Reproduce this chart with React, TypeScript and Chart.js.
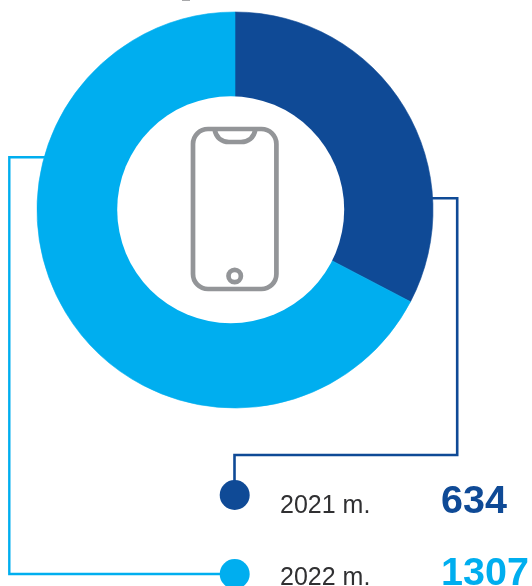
import React, { useEffect, useRef } from "react";
import { Chart, registerables } from "chart.js";

Chart.register(...registerables);

const years = ["2021 m.", "2022 m."];
const values = [634, 1307];
const valueLabels = ["634", "1307"];
const colors = ["#0f4a96", "#00aeef"];

const overlay = {
  id: "overlay",
  afterDraw(chart: any) {
    const ctx = chart.ctx as CanvasRenderingContext2D;
    ctx.save();
    ctx.lineJoin = "miter";
    ctx.lineCap = "butt";

    // off-centre hole of the ring
    ctx.fillStyle = "#ffffff";
    ctx.beginPath();
    ctx.arc(230.7, 209.7, 113.5, 0, Math.PI * 2);
    ctx.fill();

    // clipped remnant at the very top of the page
    ctx.fillStyle = "#a8a9ab";
    ctx.fillRect(182, 0, 8, 1);

    // connector lines
    ctx.strokeStyle = colors[0];
    ctx.lineWidth = 2.6;
    ctx.beginPath();
    ctx.moveTo(431, 198.2);
    ctx.lineTo(457.2, 198.2);
    ctx.lineTo(457.2, 455);
    ctx.lineTo(234.5, 455);
    ctx.lineTo(234.5, 490);
    ctx.stroke();

    ctx.strokeStyle = colors[1];
    ctx.lineWidth = 2.4;
    ctx.beginPath();
    ctx.moveTo(46, 157.3);
    ctx.lineTo(9.3, 157.3);
    ctx.lineTo(9.3, 574);
    ctx.lineTo(230, 574);
    ctx.stroke();

    // legend dots
    ctx.fillStyle = colors[0];
    ctx.beginPath();
    ctx.arc(234.7, 495, 15, 0, Math.PI * 2);
    ctx.fill();
    ctx.fillStyle = colors[1];
    ctx.beginPath();
    ctx.arc(234.7, 574, 15, 0, Math.PI * 2);
    ctx.fill();

    // phone icon
    ctx.strokeStyle = "#939598";
    ctx.lineWidth = 4.7;
    ctx.beginPath();
    ctx.roundRect(193, 129, 83.4, 160, 15);
    ctx.stroke();
    ctx.beginPath();
    ctx.moveTo(214.5, 129);
    ctx.bezierCurveTo(216, 138, 222, 142, 229, 142);
    ctx.lineTo(241, 142);
    ctx.bezierCurveTo(248, 142, 254, 138, 255.5, 129);
    ctx.stroke();
    ctx.beginPath();
    ctx.arc(234.7, 276, 6.2, 0, Math.PI * 2);
    ctx.stroke();

    // texts
    ctx.textBaseline = "alphabetic";
    ctx.textAlign = "left";
    const rows = [513, 584.5];
    years.forEach((y, i) => {
      ctx.fillStyle = "#303032";
      ctx.font = '25px "Liberation Sans"';
      ctx.fillText(y, 280, rows[i]);
      ctx.fillStyle = colors[i];
      ctx.font = 'bold 39.5px "Liberation Sans"';
      ctx.fillText(valueLabels[i], 441, rows[i]);
    });
    ctx.restore();
  },
};

export default function App() {
  const ref = useRef<HTMLCanvasElement>(null);
  useEffect(() => {
    document.body.style.margin = "0";
    const chart = new Chart(ref.current!, {
      type: "doughnut",
      data: {
        labels: years,
        datasets: [{ data: values, backgroundColor: colors, borderColor: colors, borderWidth: 0.6 }],
      },
      options: {
        animation: false,
        responsive: false,
        cutout: 100,
        radius: 198,
        layout: { padding: { left: 37, right: 99, top: 12, bottom: 178 } },
        plugins: { legend: { display: false }, tooltip: { enabled: false } },
      },
      plugins: [overlay],
    });
    return () => chart.destroy();
  }, []);
  return <canvas ref={ref} width={532} height={586} style={{ display: "block" }} />;
}
